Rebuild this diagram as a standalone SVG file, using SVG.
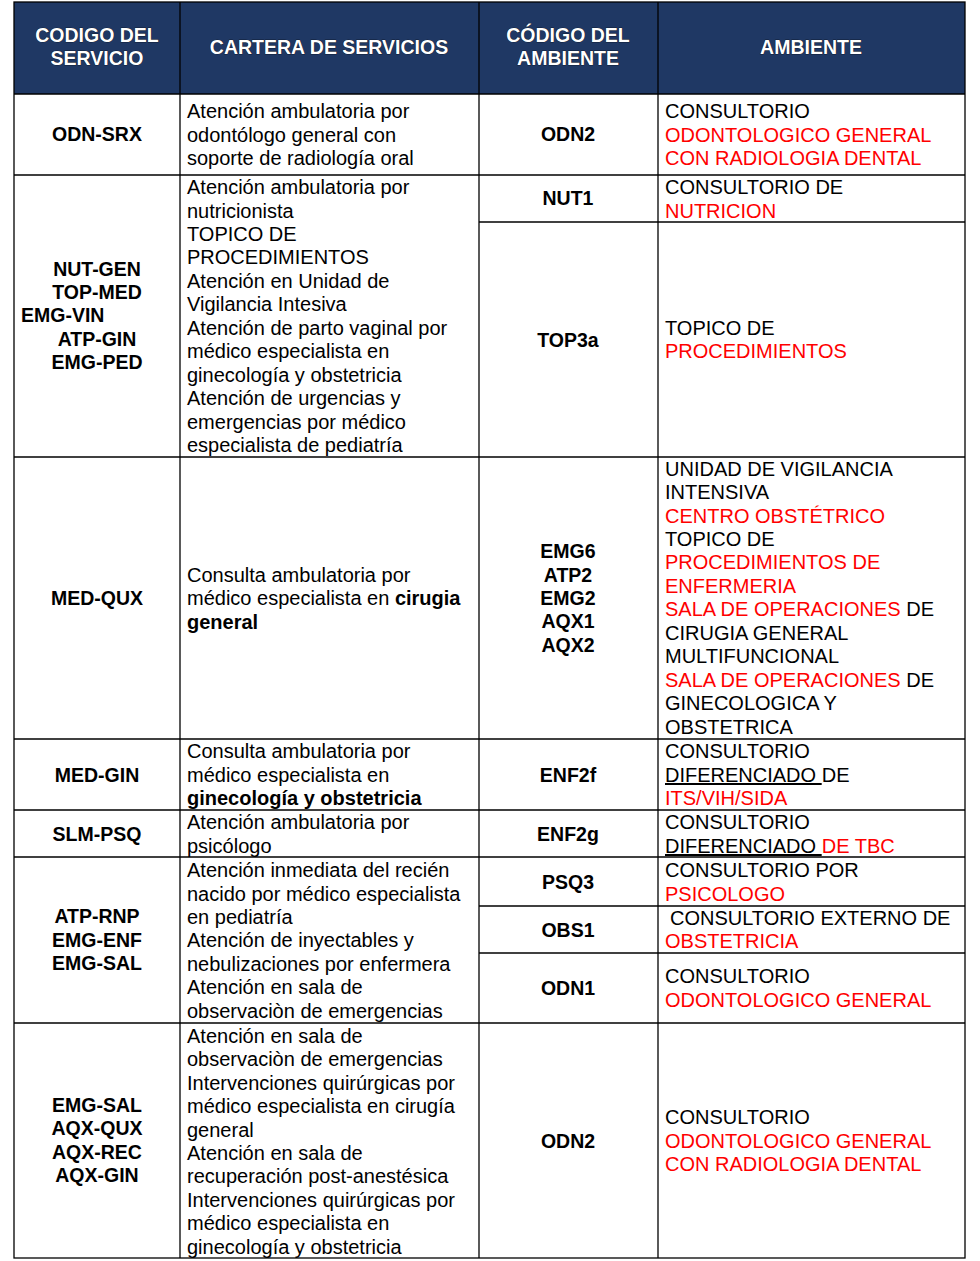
<svg xmlns="http://www.w3.org/2000/svg" width="980" height="1261" viewBox="0 0 980 1261">
<style>
text{font-family:"Liberation Sans",Arial,sans-serif;font-size:20px;fill:#000}
.h{font-weight:bold;fill:#fff;font-size:19.5px;text-anchor:middle;stroke:#000;stroke-width:0.6;paint-order:stroke}
.b{font-weight:bold;font-size:19.5px}
.c{text-anchor:middle}
.r{fill:#f00}
.bb{font-weight:bold}
.ln{stroke:#000;stroke-width:1.3;fill:none}
</style>
<rect width="980" height="1261" fill="#fff"/>
<g id="header">
<rect x="14" y="2" width="951" height="92" fill="#1f3864"/>
<text class="h" x="97" y="42">CODIGO DEL</text><text class="h" x="97" y="65">SERVICIO</text>
<text class="h" x="329" y="54">CARTERA DE SERVICIOS</text>
<text class="h" x="568" y="42">CÓDIGO DEL</text><text class="h" x="568" y="65">AMBIENTE</text>
<text class="h" x="811" y="54">AMBIENTE</text>
</g>
<g id="grid" class="ln">
<rect x="14" y="2" width="951" height="1256"/>
<line x1="180" y1="2" x2="180" y2="1258"/><line x1="479" y1="2" x2="479" y2="1258"/><line x1="658" y1="2" x2="658" y2="1258"/>
<line x1="14" y1="94" x2="965" y2="94"/><line x1="14" y1="175" x2="965" y2="175"/>
<line x1="479" y1="222" x2="965" y2="222"/>
<line x1="14" y1="457" x2="965" y2="457"/><line x1="14" y1="739" x2="965" y2="739"/>
<line x1="14" y1="810" x2="965" y2="810"/><line x1="14" y1="857" x2="965" y2="857"/>
<line x1="479" y1="906" x2="965" y2="906"/><line x1="479" y1="953" x2="965" y2="953"/>
<line x1="14" y1="1023" x2="965" y2="1023"/>
</g>
<g id="row1">
<text class="b c" x="97" y="141">ODN-SRX</text>
<text x="187" y="118">Atención ambulatoria por</text><text x="187" y="142">odontólogo general con</text><text x="187" y="165">soporte de radiología oral</text>
<text class="b c" x="568" y="141">ODN2</text>
<text x="665" y="118">CONSULTORIO</text><text class="r" x="665" y="142">ODONTOLOGICO GENERAL</text><text class="r" x="665" y="165">CON RADIOLOGIA DENTAL</text>
</g>
<g id="row2">
<text class="b c" x="97" y="276">NUT-GEN</text><text class="b c" x="97" y="299">TOP-MED</text><text class="b" x="21" y="322">EMG-VIN</text><text class="b c" x="97" y="346">ATP-GIN</text><text class="b c" x="97" y="369">EMG-PED</text>
<text x="187" y="194">Atención ambulatoria por</text><text x="187" y="218">nutricionista</text><text x="187" y="241">TOPICO DE</text><text x="187" y="264">PROCEDIMIENTOS</text><text x="187" y="288">Atención en Unidad de</text><text x="187" y="311">Vigilancia Intesiva</text><text x="187" y="335">Atención de parto vaginal por</text><text x="187" y="358">médico especialista en</text><text x="187" y="382">ginecología y obstetricia</text><text x="187" y="405">Atención de urgencias y</text><text x="187" y="429">emergencias por médico</text><text x="187" y="452">especialista de pediatría</text>
<text class="b c" x="568" y="205">NUT1</text><text class="b c" x="568" y="347">TOP3a</text>
<text x="665" y="194">CONSULTORIO DE</text><text class="r" x="665" y="218">NUTRICION</text>
<text x="665" y="335">TOPICO DE</text><text class="r" x="665" y="358">PROCEDIMIENTOS</text>
</g>
<g id="row3">
<text class="b c" x="97" y="605">MED-QUX</text>
<text x="187" y="582">Consulta ambulatoria por</text><text x="187" y="605">médico especialista en <tspan class="bb">cirugia</tspan></text><text class="bb" x="187" y="629">general</text>
<text class="b c" x="568" y="558">EMG6</text><text class="b c" x="568" y="582">ATP2</text><text class="b c" x="568" y="605">EMG2</text><text class="b c" x="568" y="628">AQX1</text><text class="b c" x="568" y="652">AQX2</text>
<text x="665" y="476">UNIDAD DE VIGILANCIA</text><text x="665" y="499">INTENSIVA</text><text class="r" x="665" y="523">CENTRO OBSTÉTRICO</text><text x="665" y="546">TOPICO DE</text><text class="r" x="665" y="569">PROCEDIMIENTOS DE</text><text class="r" x="665" y="593">ENFERMERIA</text><text x="665" y="616"><tspan class="r">SALA DE OPERACIONES</tspan> DE</text><text x="665" y="640">CIRUGIA GENERAL</text><text x="665" y="663">MULTIFUNCIONAL</text><text x="665" y="687"><tspan class="r">SALA DE OPERACIONES</tspan> DE</text><text x="665" y="710">GINECOLOGICA Y</text><text x="665" y="734">OBSTETRICA</text>
</g>
<g id="row4">
<text class="b c" x="97" y="782">MED-GIN</text>
<text x="187" y="758">Consulta ambulatoria por</text><text x="187" y="782">médico especialista en</text><text class="bb" x="187" y="805">ginecología y obstetricia</text>
<text class="b c" x="568" y="782">ENF2f</text>
<text x="665" y="758">CONSULTORIO</text><text x="665" y="782"><tspan text-decoration="underline">DIFERENCIADO </tspan>DE</text><text class="r" x="665" y="805">ITS/VIH/SIDA</text>
</g>
<g id="row5">
<text class="b c" x="97" y="841">SLM-PSQ</text>
<text x="187" y="829">Atención ambulatoria por</text><text x="187" y="853">psicólogo</text>
<text class="b c" x="568" y="841">ENF2g</text>
<text x="665" y="829">CONSULTORIO</text><text x="665" y="853"><tspan text-decoration="underline">DIFERENCIADO </tspan><tspan class="r">DE TBC</tspan></text>
</g>
<g id="row6">
<text class="b c" x="97" y="923">ATP-RNP</text><text class="b c" x="97" y="947">EMG-ENF</text><text class="b c" x="97" y="970">EMG-SAL</text>
<text x="187" y="877">Atención inmediata del recién</text><text x="187" y="901">nacido por médico especialista</text><text x="187" y="924">en pediatría</text><text x="187" y="947">Atención de inyectables y</text><text x="187" y="971">nebulizaciones por enfermera</text><text x="187" y="994">Atención en sala de</text><text x="187" y="1018">observaciòn de emergencias</text>
<text class="b c" x="568" y="889">PSQ3</text><text class="b c" x="568" y="937">OBS1</text><text class="b c" x="568" y="995">ODN1</text>
<text x="665" y="877">CONSULTORIO POR</text><text class="r" x="665" y="901">PSICOLOGO</text>
<text x="670" y="925">CONSULTORIO EXTERNO DE</text><text class="r" x="665" y="948">OBSTETRICIA</text>
<text x="665" y="983">CONSULTORIO</text><text class="r" x="665" y="1007">ODONTOLOGICO GENERAL</text>
</g>
<g id="row7">
<text class="b c" x="97" y="1112">EMG-SAL</text><text class="b c" x="97" y="1135">AQX-QUX</text><text class="b c" x="97" y="1159">AQX-REC</text><text class="b c" x="97" y="1182">AQX-GIN</text>
<text x="187" y="1043">Atención en sala de</text><text x="187" y="1066">observaciòn de emergencias</text><text x="187" y="1090">Intervenciones quirúrgicas por</text><text x="187" y="1113">médico especialista en cirugía</text><text x="187" y="1137">general</text><text x="187" y="1160">Atención en sala de</text><text x="187" y="1183">recuperación post-anestésica</text><text x="187" y="1207">Intervenciones quirúrgicas por</text><text x="187" y="1230">médico especialista en</text><text x="187" y="1254">ginecología y obstetricia</text>
<text class="b c" x="568" y="1148">ODN2</text>
<text x="665" y="1124">CONSULTORIO</text><text class="r" x="665" y="1148">ODONTOLOGICO GENERAL</text><text class="r" x="665" y="1171">CON RADIOLOGIA DENTAL</text>
</g>
</svg>
